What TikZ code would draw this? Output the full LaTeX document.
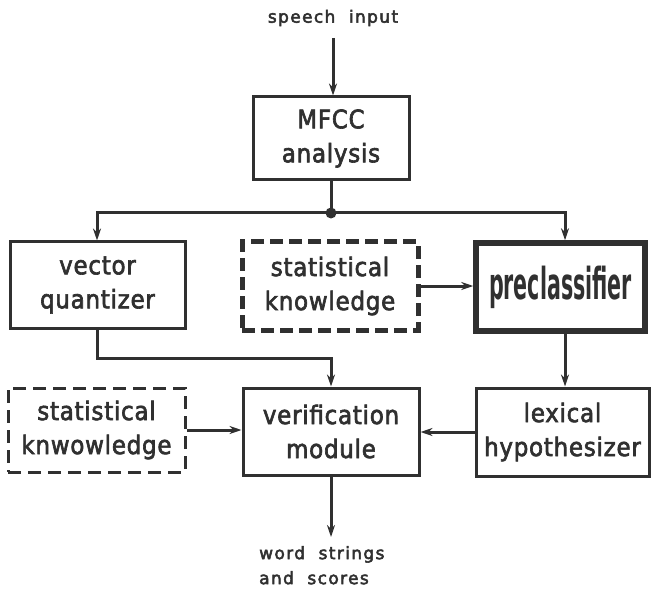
\documentclass[tikz,border=0pt]{standalone}
\usepackage{fontspec}
\usepackage{graphicx}
\setmainfont{DejaVu Sans}
\newfontfamily\condfont{DejaVu Sans Condensed Bold}
\newfontfamily\boxfont{DejaVu Sans Condensed}[LetterSpace=3,FakeBold=2.5]
\newfontfamily\spacedfont{DejaVu Sans}[LetterSpace=8,FakeBold=3]
\usetikzlibrary{arrows.meta}
\definecolor{ink}{HTML}{303030}
\begin{document}
\begin{tikzpicture}[x=1pt,y=-1pt,
  blk/.style={draw=ink, line width=3pt, align=center, text=ink, inner sep=0pt,
    font=\boxfont\fontsize{25.5}{34}\selectfont},
  thickblk/.style={blk, line width=5.5pt},
  dashblk/.style={blk, line width=5pt, dash pattern=on 13pt off 6pt},
  thindashblk/.style={blk, line width=3pt, dash pattern=on 13pt off 7pt},
  conn/.style={draw=ink, line width=3pt},
  arr/.style={conn, -{Stealth[length=12pt,width=8pt]}},
  lbl/.style={text=ink, align=left, inner sep=0pt, font=\spacedfont\fontsize{17}{25}\selectfont}
]
\useasboundingbox (0,0) rectangle (652,593);

\node[lbl] (in) at (333,18) {speech\ \ input};
\node[blk, minimum width=156pt, minimum height=83pt] (mfcc) at (331,138.5) {MFCC\\analysis};
\coordinate (jn) at (331,213);
\coordinate (jl) at (97,213);
\coordinate (jr) at (565,213);

\node[blk, minimum width=175pt, minimum height=86pt] (vq) at (97.5,285) {vector\\quantizer};
\node[dashblk, minimum width=176pt, minimum height=88pt] (sk1) at (330,286) {statistical\\knowledge};
\node[thickblk, minimum width=169pt, minimum height=88pt] (pc) at (560.5,287)
  {\scalebox{0.52}[1]{\condfont\fontsize{44}{46}\selectfont preclassifier}};

\node[thindashblk, minimum width=177pt, minimum height=84pt] (sk2) at (96.5,430) {statistical\\knwowledge};
\node[blk, minimum width=176pt, minimum height=87pt] (vm) at (331,431.5) {verification\\module};
\node[blk, minimum width=173pt, minimum height=88pt] (lh) at (562.5,432) {lexical\\hypothesizer};

\coordinate (bend) at (97,358);
\coordinate (out) at (331,537);
\node[lbl, anchor=north west] (res) at (259,546) {word\ \ strings\\and\ \ scores};

\draw[arr] (in.south |- 0,38) -- (in.south |- mfcc.north);
\draw[conn] (mfcc.south) -- (jn);
\fill[ink] (jn) circle (5.5pt);
\draw[arr] (jn) -- (jl) -- (jl |- vq.north);
\draw[arr] (jn) -- (jr) -- (jr |- pc.north);
\draw[arr] (sk1.east) -- (pc.west |- sk1.east);
\draw[arr] (vq.south -| bend) -- (bend) -- (bend -| vm.north) -- (vm.north);
\draw[arr] (jr |- pc.south) -- (jr |- lh.north);
\draw[arr] (sk2.east) -- (vm.west |- sk2.east);
\draw[arr] (lh.west) -- (vm.east |- lh.west);
\draw[arr] (vm.south) -- (out);
\end{tikzpicture}
\end{document}
